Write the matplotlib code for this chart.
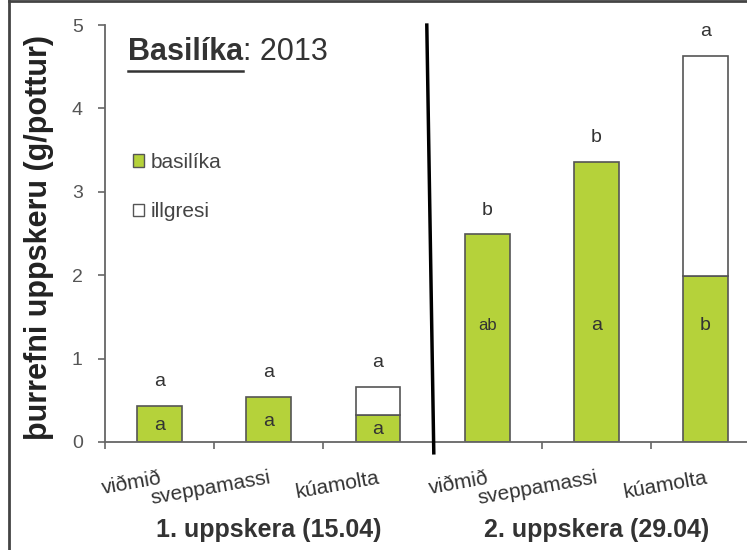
import numpy as np
import matplotlib
matplotlib.use('Agg')
import matplotlib.pyplot as plt
from matplotlib.patches import Patch
from matplotlib.lines import Line2D
import matplotlib.transforms as mtransforms

plt.rcParams['font.family'] = ['Liberation Sans', 'DejaVu Sans']

# data
categories = ['viðmið', 'sveppamassi', 'kúamolta', 'viðmið', 'sveppamassi', 'kúamolta']
basilika = [0.43, 0.54, 0.32, 2.49, 3.36, 1.99]
illgresi = [0.0, 0.0, 0.34, 0.0, 0.0, 2.64]
letters_top = ['a', 'a', 'a', 'b', 'b', 'a']
letters_in = ['a', 'a', 'a', 'ab', 'a', 'b']
groups = ['1. uppskera (15.04)', '2. uppskera (29.04)']

green = '#b5d23a'
edge = '#555555'
txt = '#333333'

fig = plt.figure(figsize=(7.47, 5.5), dpi=100)
ax = fig.add_axes([0.1406, 0.1964, 0.877, 0.758])

x = np.arange(len(categories))
b = np.array(basilika)
w = np.array(illgresi)
ax.bar(x, b, width=0.41, color=green, edgecolor=edge, linewidth=1.2, zorder=2)
ax.bar(x[w > 0], w[w > 0], bottom=b[w > 0], width=0.41, color='white',
       edgecolor=edge, linewidth=1.2, zorder=2)

tot = b + w
for i in range(len(x)):
    ax.text(x[i], tot[i] + 0.19, letters_top[i], ha='center', va='bottom',
            fontsize=14, color=txt)
    yin = b[i] * 0.45 if b[i] < 1 else 1.4
    ax.text(x[i], yin, letters_in[i], ha='center', va='center',
            fontsize=14 if letters_in[i] != 'ab' else 12, color=txt)

ax.set_xlim(-0.5, 5.5)
ax.set_ylim(0, 5)
ax.set_yticks([0, 1, 2, 3, 4, 5])
ax.tick_params(axis='y', colors='#666666', labelcolor='#555555', labelsize=14,
               length=5, width=1.2, pad=11)
ax.set_xticks(np.arange(-0.5, 6, 1.0))
ax.set_xticklabels([])
ax.tick_params(axis='x', which='major', colors='#666666', length=5, width=1.2)
ax.set_xticks(x, minor=True)
ax.set_xticklabels(categories, minor=True, rotation=10, ha='right',
                   rotation_mode='anchor', fontsize=15, color=txt)
ax.tick_params(axis='x', which='minor', length=0, pad=19)

for s in ['top', 'right']:
    ax.spines[s].set_visible(False)
for s in ['left', 'bottom']:
    ax.spines[s].set_color('#666666')
    ax.spines[s].set_linewidth(1.3)

ax.set_ylabel('þurrefni uppskeru (g/pottur)', fontsize=22, fontweight='bold',
              color='#222222')
ax.yaxis.set_label_coords(-0.078, 0.49)

# group labels
trans = mtransforms.blended_transform_factory(ax.transData, ax.transAxes)
ax.text(1, -0.21, groups[0], transform=trans, ha='center', va='center',
        fontsize=18, fontweight='bold', color=txt)
ax.text(4, -0.21, groups[1], transform=trans, ha='center', va='center',
        fontsize=18, fontweight='bold', color=txt)

# divider between harvests
ax.plot([2.447, 2.511], [5.0, -0.13], color='black', lw=2.5, clip_on=False, zorder=3)

# title
t1 = ax.text(0.035, 0.916, 'Basilíka', transform=ax.transAxes, fontsize=22,
             fontweight='bold', color=txt, va='baseline')
fig.canvas.draw()
bb = t1.get_window_extent()
inv = ax.transAxes.inverted()
x1 = inv.transform((bb.x1, bb.y0))[0]
y0 = inv.transform((bb.x0, bb.y0 - 4))[1]
x0 = inv.transform((bb.x0, bb.y0))[0]
ax.plot([x0, x1], [y0, y0], transform=ax.transAxes, color=txt, lw=1.8)
ax.text(x1, 0.916, ': 2013', transform=ax.transAxes, fontsize=22,
        color=txt, va='baseline')

handles = [Patch(facecolor=green, edgecolor=edge, label='basilíka'),
           Patch(facecolor='white', edgecolor=edge, label='illgresi')]
ax.legend(handles=handles, loc='upper left', bbox_to_anchor=(0.014, 0.738),
          frameon=False, handlelength=0.55, handleheight=0.55, handletextpad=0.3,
          labelspacing=1.45, fontsize=15, labelcolor='#444444')

# outer frame (left and top edges)
fig.add_artist(Line2D([9 / 747, 9 / 747], [0, 1 - 1 / 550], color='#444444', lw=2,
                      transform=fig.transFigure))
fig.add_artist(Line2D([9 / 747, 1], [1 - 1 / 550, 1 - 1 / 550], color='#444444', lw=2,
                      transform=fig.transFigure))

fig.savefig('out.png', dpi=100)
